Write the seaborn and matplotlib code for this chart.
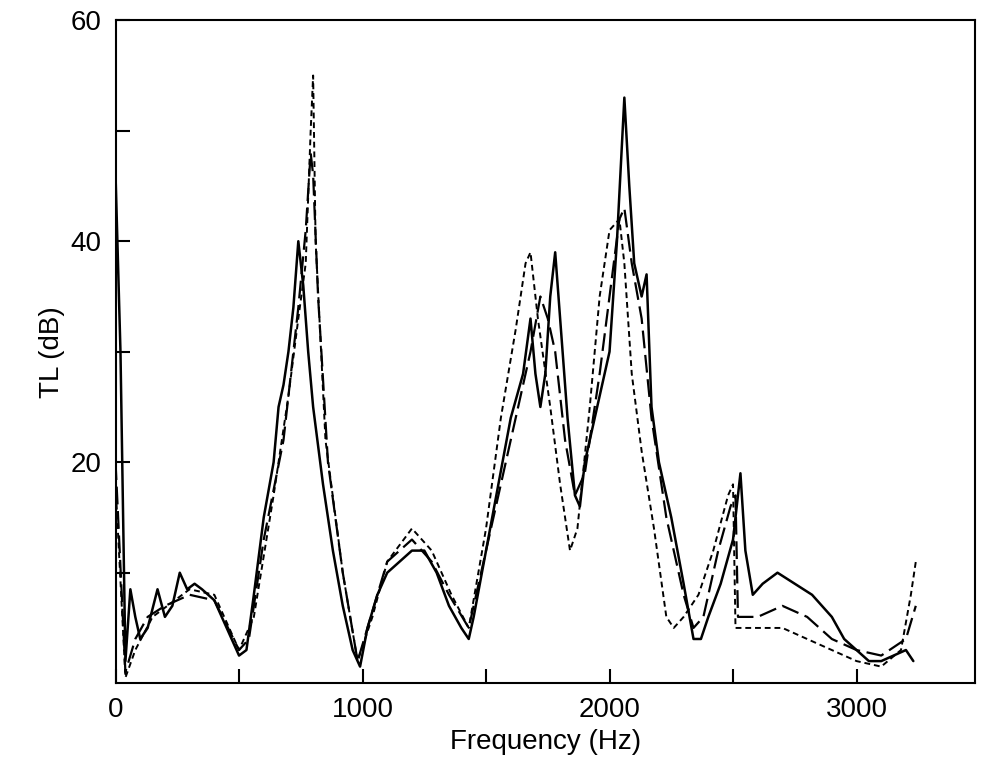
import matplotlib
matplotlib.use("Agg")
import matplotlib.pyplot as plt
import seaborn as sns
import pandas as pd

# courbe pleine
f_solid = [0, 20, 40, 60, 80, 100, 130, 170, 200, 230, 260, 290, 320, 350, 400, 450, 500, 530, 560, 600,
           640, 660, 680, 700, 720, 740, 760, 780, 800, 840, 880, 920, 960, 990, 1020, 1060, 1100, 1150,
           1200, 1250, 1300, 1350, 1400, 1430, 1450, 1500, 1550, 1600, 1650, 1680, 1700, 1720, 1740, 1760,
           1780, 1800, 1830, 1860, 1880, 1900, 1950, 2000, 2030, 2060, 2080, 2100, 2130, 2150, 2170, 2200,
           2250, 2300, 2340, 2370, 2400, 2450, 2500, 2530, 2550, 2580, 2620, 2680, 2750, 2820, 2900, 2950,
           3000, 3050, 3100, 3150, 3200, 3230]
tl_solid = [46, 30, 2, 8.5, 6, 4, 5, 8.5, 6, 7, 10, 8.5, 9, 8.5, 7.5, 5, 2.5, 3, 8, 15,
            20, 25, 27, 30, 34, 40, 36, 30, 25, 18, 12, 7, 3, 1.5, 5, 8, 10, 11,
            12, 12, 10, 7, 5, 4, 6, 12, 18, 24, 28, 33, 28, 25, 28, 35,
            39, 33, 24, 17, 16, 20, 25, 30, 40, 53, 45, 38, 35, 37, 25, 20,
            15, 9, 4, 4, 6, 9, 13, 19, 12, 8, 9, 10, 9, 8, 6, 4,
            3, 2, 2, 2.5, 3, 2]

# tirets longs
f_long = [0, 40, 80, 130, 200, 300, 400, 500, 540, 600, 680, 740, 770, 790, 800, 820, 860, 920, 980, 1020,
          1100, 1200, 1280, 1350, 1430, 1500, 1600, 1680, 1720, 1750, 1780, 1820, 1860, 1900, 1960, 2000,
          2040, 2060, 2090, 2130, 2170, 2230, 2300, 2340, 2380, 2440, 2490, 2510, 2520, 2600, 2700, 2800,
          2900, 3000, 3100, 3200, 3240]
tl_long = [20, 1, 4, 6, 7, 8, 7.5, 3, 4, 13, 22, 34, 41, 48, 46, 35, 20, 10, 2, 5,
           11, 13, 11, 8, 5, 12, 22, 30, 35, 33, 30, 22, 17, 19, 28, 35,
           42, 43, 38, 33, 24, 15, 8, 5, 6, 12, 16, 17, 6, 6, 7, 6,
           4, 3, 2.5, 4, 7]

# tirets courts
f_short = [0, 40, 80, 150, 300, 400, 500, 560, 640, 700, 740, 770, 790, 800, 810, 850, 920, 980, 1040,
           1100, 1200, 1280, 1360, 1430, 1500, 1560, 1620, 1660, 1680, 1710, 1760, 1800, 1840, 1870, 1920,
           1960, 2000, 2040, 2060, 2090, 2130, 2180, 2230, 2260, 2300, 2360, 2420, 2480, 2500, 2510, 2600,
           2700, 2800, 2900, 3000, 3100, 3180, 3220, 3240]
tl_short = [18, 0.5, 3, 6, 8.5, 8, 3, 6, 17, 26, 33, 38, 50, 55, 40, 22, 10, 2, 6,
            11, 14, 12, 8, 5, 14, 24, 32, 38, 39, 33, 25, 18, 12, 14, 25,
            35, 41, 42, 38, 28, 21, 14, 6, 5, 6, 8, 12, 17, 18, 5, 5,
            5, 4, 3, 2, 1.5, 3, 8, 11]

sns.set_style("ticks")
plt.rcParams['font.family'] = ['Liberation Sans', 'DejaVu Sans']

fig, ax = plt.subplots(figsize=(9.96, 7.79), dpi=100)
styles = [(f_solid, tl_solid, "-", 1.8), (f_long, tl_long, (0, (8, 3)), 1.6), (f_short, tl_short, (0, (3, 2)), 1.4)]
for f, tl, ls, lw in styles:
    d = pd.DataFrame({"f": f, "tl": tl})
    sns.lineplot(data=d, x="f", y="tl", ax=ax, color="black", linestyle=ls, linewidth=lw)

ax.set_xlim(0, 3480)
ax.set_ylim(0, 60)
ax.set_xticks([0, 1000, 2000, 3000])
ax.set_xticks([500, 1500, 2500], minor=True)
ax.set_yticks([20, 40, 60])
ax.set_yticks([10, 30, 50], minor=True)
ax.tick_params(direction="in", length=10, width=1.5, labelsize=20, pad=10, colors="black")
ax.tick_params(which="minor", direction="in", length=10, width=1.5, colors="black")
for s in ax.spines.values():
    s.set_linewidth(1.5)
    s.set_color("black")
ax.set_xlabel("Frequency (Hz)", fontsize=20, color="black")
ax.set_ylabel("TL (dB)", fontsize=20, color="black")
fig.subplots_adjust(left=0.116, right=0.979, top=0.974, bottom=0.123)
fig.savefig("out.png")
